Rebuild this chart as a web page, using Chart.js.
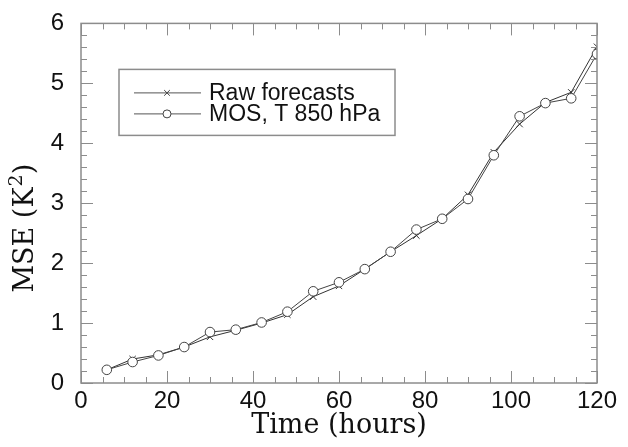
<!DOCTYPE html>
<html>
<head>
<meta charset="utf-8">
<script src="https://cdn.jsdelivr.net/npm/chart.js@4/dist/chart.umd.min.js"></script>
<style>
html,body{margin:0;padding:0;background:#fff;}
#wrap{width:628px;height:447px;}
</style>
</head>
<body>
<div id="wrap"><canvas id="c" width="628" height="447"></canvas></div>
<script>
const hours = [6,12,18,24,30,36,42,48,54,60,66,72,78,84,90,96,102,108,114,120];
const rawForecasts = [0.22,0.40,0.47,0.60,0.77,0.88,1.00,1.14,1.44,1.62,1.90,2.19,2.46,2.74,3.14,3.85,4.32,4.68,4.85,5.61];
const mosT850 = [0.22,0.35,0.46,0.60,0.85,0.89,1.01,1.19,1.53,1.68,1.90,2.19,2.56,2.74,3.07,3.80,4.45,4.67,4.75,5.49];
const seriesLabels = ['Raw forecasts','MOS, T 850 hPa'];
const xTitle = 'Time (hours)';
const yTitleParts = ['MSE (K', '2', ')'];

const frameColor = '#8c8c8c';
const serif = '"DejaVu Serif", serif';
const sans = '"Liberation Sans", Arial, sans-serif';

const frameTicks = {
  id: 'frameTicks',
  afterDraw(chart) {
    const {ctx, chartArea: a, scales: {x, y}} = chart;
    ctx.save();
    ctx.strokeStyle = frameColor;
    ctx.lineWidth = 1.5;
    ctx.strokeRect(a.left, a.top, a.right - a.left, a.bottom - a.top);
    ctx.lineWidth = 1;
    ctx.beginPath();
    for (let v = x.min; v <= x.max + 1e-9; v += 5) {
      const px = Math.round(x.getPixelForValue(v)) + 0.5;
      const len = (Math.round(v) % 20 === 0) ? 12 : 6;
      ctx.moveTo(px, a.bottom); ctx.lineTo(px, a.bottom - len);
      ctx.moveTo(px, a.top); ctx.lineTo(px, a.top + len);
    }
    for (let i = 0; i <= 30; i++) {
      const v = i * 0.2;
      const py = Math.round(y.getPixelForValue(v)) + 0.5;
      const len = (i % 5 === 0) ? 12 : 6;
      ctx.moveTo(a.left, py); ctx.lineTo(a.left + len, py);
      ctx.moveTo(a.right, py); ctx.lineTo(a.right - len, py);
    }
    ctx.stroke();

    // y axis title with a real superscript
    const cy = (a.top + a.bottom) / 2 + 25;
    ctx.translate(25, cy);
    ctx.rotate(-Math.PI / 2);
    ctx.fillStyle = '#111';
    ctx.textBaseline = 'middle';
    ctx.textAlign = 'left';
    const big = '27px ' + serif, small = '19px ' + serif;
    ctx.font = big; const w0 = ctx.measureText(yTitleParts[0]).width;
    ctx.font = small; const w1 = ctx.measureText(yTitleParts[1]).width + 1;
    ctx.font = big; const w2 = ctx.measureText(yTitleParts[2]).width;
    let sx = -(w0 + w1 + w2) / 2;
    ctx.font = big; ctx.fillText(yTitleParts[0], sx, 1); sx += w0;
    ctx.font = small; ctx.fillText(yTitleParts[1], sx + 1, -8); sx += w1;
    ctx.font = big; ctx.fillText(yTitleParts[2], sx, 1);
    ctx.restore();
  }
};

const boxLegend = {
  id: 'boxLegend',
  afterDatasetsDraw(chart) {
    const {ctx, chartArea: a} = chart;
    const bx = a.left + 38, by = a.top + 46, bw = 276, bh = 66;
    ctx.save();
    ctx.fillStyle = '#fff';
    ctx.fillRect(bx, by, bw, bh);
    ctx.strokeStyle = frameColor;
    ctx.lineWidth = 1.5;
    ctx.strokeRect(bx, by, bw, bh);
    const rows = [by + 23.5, by + 44.5];
    chart.data.datasets.forEach((ds, i) => {
      const yy = rows[i];
      ctx.strokeStyle = '#555';
      ctx.lineWidth = 1;
      ctx.beginPath();
      ctx.moveTo(bx + 15, yy); ctx.lineTo(bx + 82, yy);
      ctx.stroke();
      ctx.fillStyle = ds.pointStyle === 'circle' ? '#fff' : '#444';
      ctx.strokeStyle = '#444';
      Chart.helpers.drawPoint(ctx, {pointStyle: ds.pointStyle, radius: 4, borderWidth: 1}, bx + 48, yy);
      ctx.fillStyle = '#111';
      ctx.font = '23px ' + sans;
      ctx.textBaseline = 'middle';
      ctx.textAlign = 'left';
      ctx.fillText(ds.label, bx + 90, yy + 1);
    });
    ctx.restore();
  }
};

new Chart(document.getElementById('c'), {
  type: 'line',
  data: {
    datasets: [
      {
        label: seriesLabels[0],
        data: hours.map((h, i) => ({x: h, y: rawForecasts[i]})),
        borderColor: '#333', backgroundColor: '#333',
        borderWidth: 1, pointStyle: 'crossRot', pointRadius: 4.5,
        pointBorderWidth: 1, order: 1
      },
      {
        label: seriesLabels[1],
        data: hours.map((h, i) => ({x: h, y: mosT850[i]})),
        borderColor: '#444', backgroundColor: '#fff',
        borderWidth: 1, pointStyle: 'circle', pointRadius: 4.8,
        pointBorderWidth: 1, order: 0
      }
    ]
  },
  options: {
    responsive: false,
    animation: false,
    devicePixelRatio: 1,
    layout: {padding: {top: 17, right: 31, left: 0, bottom: 0}},
    plugins: {legend: {display: false}, tooltip: {enabled: false}},
    elements: {line: {tension: 0}},
    scales: {
      x: {
        type: 'linear', min: 0, max: 120,
        ticks: {stepSize: 20, color: '#111', padding: -4,
          font: {family: sans, size: 24}},
        grid: {display: false}, border: {display: false},
        title: {display: true, text: xTitle, color: '#111',
          font: {family: serif, size: 27, lineHeight: 1.2},
          padding: {top: 0, bottom: 5}},
        afterFit(s) { s.height = 64; }
      },
      y: {
        type: 'linear', min: 0, max: 6,
        ticks: {stepSize: 1, color: '#111', padding: 9,
          font: {family: sans, size: 24}},
        grid: {display: false}, border: {display: false},
        afterFit(s) { s.width = 81; }
      }
    }
  },
  plugins: [frameTicks, boxLegend]
});
</script>
</body>
</html>
